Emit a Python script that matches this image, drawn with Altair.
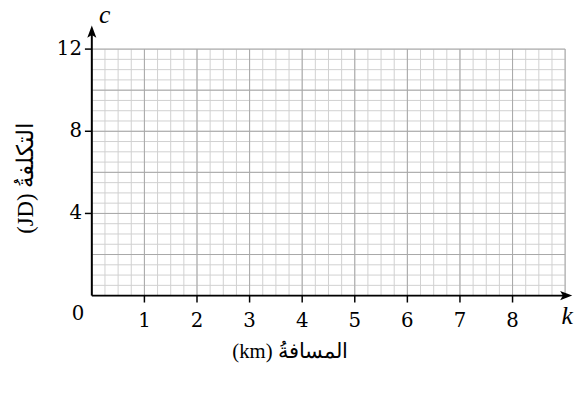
import altair as alt
import pandas as pd
import numpy as np

# Axis ranges and tick labels
x_max = 9
y_max = 12
x_tick_values = [1, 2, 3, 4, 5, 6, 7, 8]
y_tick_values = [4, 8, 12]
x_minor_step = 0.25
y_minor_step = 0.5
x_major_step = 1
y_major_step = 2

x_title = "(km) المسافةُ"
y_title = "(JD) التكلفةُ"

W, H = 480, 250
FONT = "Liberation Serif"
NUMFONT = "DejaVu Serif"

xs = alt.Scale(domain=[0, x_max], nice=False, zero=False)
ys = alt.Scale(domain=[0, y_max], nice=False, zero=False)

vminor = pd.DataFrame({"x": np.arange(0, x_max + 1e-9, x_minor_step)})
hminor = pd.DataFrame({"y": np.arange(0, y_max + 1e-9, y_minor_step)})
vmajor = pd.DataFrame({"x": np.arange(0, x_max + 1e-9, x_major_step)})
hmajor = pd.DataFrame({"y": np.arange(0, y_max + 1e-9, y_major_step)})

grid_v_minor = alt.Chart(vminor).mark_rule(color="#d0d0d0", strokeWidth=1).encode(
    x=alt.X("x:Q", scale=xs, axis=None))
grid_h_minor = alt.Chart(hminor).mark_rule(color="#d0d0d0", strokeWidth=1).encode(
    y=alt.Y("y:Q", scale=ys, axis=None))
grid_v_major = alt.Chart(vmajor).mark_rule(color="#a8a8a8", strokeWidth=1).encode(
    x=alt.X("x:Q", scale=xs, axis=None))
grid_h_major = alt.Chart(hmajor).mark_rule(color="#a8a8a8", strokeWidth=1).encode(
    y=alt.Y("y:Q", scale=ys, axis=None))

axes_df = pd.DataFrame({"x": [0, 0], "x2": [9.0, 0], "y": [0, 0], "y2": [0, 12.85]})
axes = alt.Chart(axes_df).mark_rule(color="black", strokeWidth=2).encode(
    x=alt.X("x:Q", scale=xs, axis=None), x2="x2:Q",
    y=alt.Y("y:Q", scale=ys, axis=None), y2="y2:Q")

arrow_r = alt.Chart(pd.DataFrame({"x": [9.02], "y": [0]})).mark_point(
    shape="M1,0 L-1,-0.75 L-0.55,0 L-1,0.75 Z", size=150, filled=True,
    color="black", opacity=1, clip=False).encode(
    x=alt.X("x:Q", scale=xs, axis=None), y=alt.Y("y:Q", scale=ys, axis=None))
arrow_u = alt.Chart(pd.DataFrame({"x": [0], "y": [12.85]})).mark_point(
    shape="M0,-1 L-0.75,1 L0,0.55 L0.75,1 Z", size=150, filled=True,
    color="black", opacity=1, clip=False).encode(
    x=alt.X("x:Q", scale=xs, axis=None), y=alt.Y("y:Q", scale=ys, axis=None))

xt = pd.DataFrame({"v": x_tick_values, "t": [str(v) for v in x_tick_values]})
yt = pd.DataFrame({"v": y_tick_values, "t": [str(v) for v in y_tick_values]})

xticks = alt.Chart(xt).mark_rule(color="black", strokeWidth=1.5).encode(
    x=alt.X("v:Q", scale=xs, axis=None), y=alt.value(H), y2=alt.value(H + 7))
yticks = alt.Chart(yt).mark_rule(color="black", strokeWidth=1.5).encode(
    y=alt.Y("v:Q", scale=ys, axis=None), x=alt.value(-7), x2=alt.value(0))

xlabels = alt.Chart(xt).mark_text(font=NUMFONT, fontSize=20, baseline="middle",
                                  align="center", color="black").encode(
    x=alt.X("v:Q", scale=xs, axis=None), y=alt.value(H + 26), text="t:N")
ylabels = alt.Chart(yt).mark_text(font=NUMFONT, fontSize=20, baseline="middle",
                                  align="right", color="black").encode(
    y=alt.Y("v:Q", scale=ys, axis=None), x=alt.value(-10), text="t:N")

zero = alt.Chart(pd.DataFrame({"t": ["0"]})).mark_text(
    font=NUMFONT, fontSize=20, baseline="middle", align="center",
    color="black").encode(x=alt.value(-14), y=alt.value(H + 19), text="t:N")

lab_c = alt.Chart(pd.DataFrame({"t": ["c"]})).mark_text(
    font=FONT, fontSize=26, fontStyle="italic", baseline="alphabetic", align="center",
    color="black").encode(x=alt.value(13), y=alt.value(-26), text="t:N")
lab_k = alt.Chart(pd.DataFrame({"t": ["k"]})).mark_text(
    font=FONT, fontSize=26, fontStyle="italic", baseline="alphabetic", align="center",
    color="black").encode(x=alt.value(482), y=alt.value(H + 29), text="t:N")

xtitle = alt.Chart(pd.DataFrame({"t": [x_title]})).mark_text(
    font=FONT, fontSize=21, baseline="middle", align="center",
    color="black").encode(x=alt.value(201), y=alt.value(H + 57), text="t:N")
ytitle = alt.Chart(pd.DataFrame({"t": [y_title]})).mark_text(
    font=FONT, fontSize=23, baseline="middle", align="center", angle=270,
    color="black").encode(x=alt.value(-67), y=alt.value(131), text="t:N")

chart = alt.layer(
    grid_v_minor, grid_h_minor, grid_v_major, grid_h_major,
    axes, arrow_r, arrow_u, xticks, yticks, xlabels, ylabels, zero,
    lab_c, lab_k, xtitle, ytitle
).properties(
    width=W, height=H,
    autosize=alt.AutoSizeParams(type="none"),
    padding={"left": 85, "top": 39, "right": 10, "bottom": 90},
).configure_view(stroke=None)

chart.save("out.html", embed_options={"renderer": "svg", "actions": False})
